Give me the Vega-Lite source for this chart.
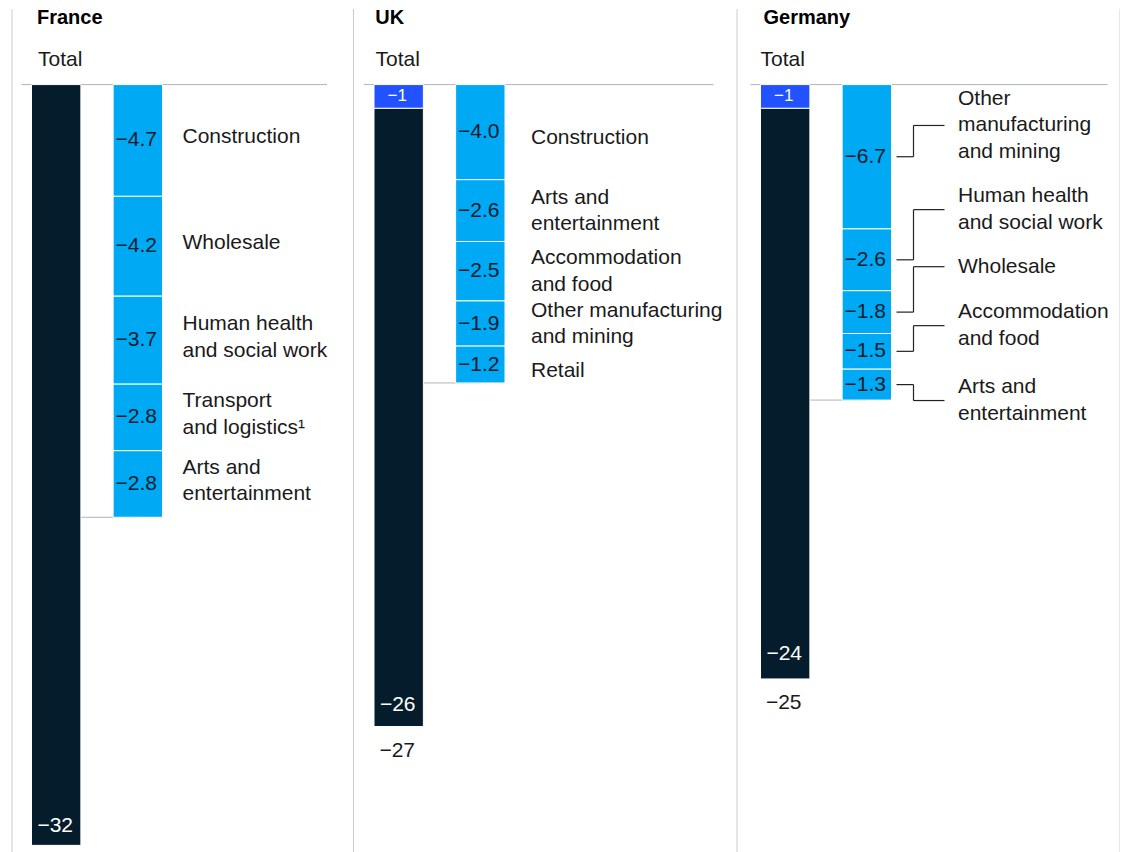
{
  "$schema": "https://vega.github.io/schema/vega-lite/v6.json",
  "autosize": {"type": "pad"},
  "padding": {"left": 11.5, "top": 7.5, "right": 0, "bottom": 0},
  "spacing": 36.5,
  "bounds": "flush",
  "config": {
    "font": "Liberation Sans",
    "view": {"stroke": null},
    "axisX": {"disable": true}
  },
  "datasets": {
    "fr": [
      {"col": "Total", "part": "rest", "order": 1, "value": -32, "bar": -32},
      {"col": "Sectors", "part": "sector", "order": 1, "name": "Construction", "value": -4.7, "bar": -4.7},
      {"col": "Sectors", "part": "sector", "order": 2, "name": "Wholesale", "value": -4.2, "bar": -4.2},
      {"col": "Sectors", "part": "sector", "order": 3, "name": "Human health\nand social work", "value": -3.7, "bar": -3.7},
      {"col": "Sectors", "part": "sector", "order": 4, "name": "Transport\nand logistics¹", "value": -2.8, "bar": -2.8},
      {"col": "Sectors", "part": "sector", "order": 5, "name": "Arts and\nentertainment", "value": -2.8, "bar": -2.8}
    ],
    "uk": [
      {"col": "Total", "part": "top", "order": 1, "value": -1, "bar": -1},
      {"col": "Total", "part": "rest", "order": 2, "value": -26, "bar": -26, "total": -27},
      {"col": "Sectors", "part": "sector", "order": 1, "name": "Construction", "value": -4.0, "bar": -4.0},
      {"col": "Sectors", "part": "sector", "order": 2, "name": "Arts and\nentertainment", "value": -2.6, "bar": -2.6},
      {"col": "Sectors", "part": "sector", "order": 3, "name": "Accommodation\nand food", "value": -2.5, "bar": -2.5},
      {"col": "Sectors", "part": "sector", "order": 4, "name": "Other manufacturing\nand mining", "value": -1.9, "bar": -1.9},
      {"col": "Sectors", "part": "sector", "order": 5, "name": "Retail", "value": -1.2, "bar": -1.55}
    ],
    "de": [
      {"col": "Total", "part": "top", "order": 1, "value": -1, "bar": -1},
      {"col": "Total", "part": "rest", "order": 2, "value": -24, "bar": -24, "total": -25},
      {"col": "Sectors", "part": "sector", "order": 1, "name": "Other\nmanufacturing\nand mining", "value": -6.7, "bar": -6.07, "labelAt": -1.72},
      {"col": "Sectors", "part": "sector", "order": 2, "name": "Human health\nand social work", "value": -2.6, "bar": -2.6, "labelAt": -5.26},
      {"col": "Sectors", "part": "sector", "order": 3, "name": "Wholesale", "value": -1.8, "bar": -1.8, "labelAt": -7.66},
      {"col": "Sectors", "part": "sector", "order": 4, "name": "Accommodation\nand food", "value": -1.5, "bar": -1.5, "labelAt": -10.14},
      {"col": "Sectors", "part": "sector", "order": 5, "name": "Arts and\nentertainment", "value": -1.3, "bar": -1.3, "labelAt": -13.29}
    ]
  },
  "hconcat": [
    {
      "width": 305.5,
      "height": 844,
      "data": {"name": "fr"},
      "transform": [
        {"stack": "bar", "groupby": ["col"], "sort": [{"field": "order", "order": "ascending"}], "as": ["y0", "y1"]},
        {"calculate": "(datum.y0 + datum.y1) / 2", "as": "mid"},
        {"calculate": "isValid(datum.name) ? length(split(datum.name, '\\n')) : 0", "as": "lines"}
      ],
      "resolve": {"axis": {"y": "independent"}},
      "layer": [
        {
          "data": {"values": [{}]},
          "mark": {"type": "rule", "color": "#b3b3b3", "strokeWidth": 1},
          "encoding": {
            "y": {"datum": 0, "type": "quantitative", "axis": {"orient": "left", "offset": 10, "domain": true, "domainColor": "#cccccc", "domainWidth": 1, "ticks": false, "labels": false, "grid": false, "title": null}}
          }
        },
        {
          "transform": [{"filter": "datum.col === 'Sectors'"}, {"aggregate": [{"op": "min", "field": "y1", "as": "end"}]}],
          "mark": {"type": "rule", "color": "#b3b3b3", "strokeWidth": 1},
          "encoding": {
            "x": {"datum": "Total", "type": "nominal", "axis": null},
            "x2": {"datum": "Sectors"},
            "y": {"field": "end", "type": "quantitative", "axis": null}
          }
        },
        {
          "mark": {"type": "bar", "stroke": "#ffffff", "strokeWidth": 1},
          "encoding": {
            "x": {"field": "col", "type": "nominal", "axis": null, "scale": {"domain": ["Total", "Sectors"], "range": [10, 141], "paddingInner": 0.395, "paddingOuter": 0}},
            "y": {"field": "y0", "type": "quantitative", "axis": null, "scale": {"domain": [-32.3, 3.2], "nice": false, "zero": false}},
            "y2": {"field": "y1"},
            "color": {"field": "part", "type": "nominal", "legend": null, "scale": {"domain": ["top", "rest", "sector"], "range": ["#2251ff", "#051c2c", "#00a9f4"]}}
          }
        },
        {
          "transform": [{"filter": "datum.col === 'Sectors'"}],
          "mark": {"type": "text", "fontSize": 21, "color": "#051c2c", "baseline": "middle", "dx": -1.5},
          "encoding": {
            "x": {"field": "col", "type": "nominal", "axis": null},
            "y": {"field": "mid", "type": "quantitative", "axis": null},
            "text": {"field": "value", "type": "quantitative", "format": ".1f"}
          }
        },
        {
          "transform": [{"filter": "datum.lines === 1"}],
          "mark": {"type": "text", "fontSize": 21, "color": "#1a1a1a", "align": "left", "baseline": "middle", "dx": 20, "dy": -3, "lineBreak": "\n", "lineHeight": 26.5},
          "encoding": {
            "x": {"field": "col", "type": "nominal", "bandPosition": 1, "axis": null},
            "y": {"field": "mid", "type": "quantitative", "axis": null},
            "text": {"field": "name", "type": "nominal"}
          }
        },
        {
          "transform": [{"filter": "datum.lines === 2"}],
          "mark": {"type": "text", "fontSize": 21, "color": "#1a1a1a", "align": "left", "baseline": "middle", "dx": 20, "dy": -16, "lineBreak": "\n", "lineHeight": 26.5},
          "encoding": {
            "x": {"field": "col", "type": "nominal", "bandPosition": 1, "axis": null},
            "y": {"field": "mid", "type": "quantitative", "axis": null},
            "text": {"field": "name", "type": "nominal"}
          }
        },
        {
          "transform": [{"filter": "datum.part === 'rest'"}],
          "mark": {"type": "text", "fontSize": 21, "color": "#ffffff", "baseline": "alphabetic", "dy": -13, "dx": -1},
          "encoding": {
            "x": {"field": "col", "type": "nominal", "axis": null},
            "y": {"field": "y1", "type": "quantitative", "axis": null},
            "text": {"field": "value", "type": "quantitative", "format": "d"}
          }
        },
        {
          "data": {"values": [{}]},
          "mark": {"type": "text", "text": "France", "fontSize": 20, "fontWeight": "bold", "color": "#000000", "align": "left", "baseline": "alphabetic", "dx": 5.5},
          "encoding": {
            "x": {"datum": "Total", "type": "nominal", "bandPosition": 0, "axis": null},
            "y": {"datum": 2.553, "type": "quantitative", "axis": null}
          }
        },
        {
          "data": {"values": [{}]},
          "mark": {"type": "text", "text": "Total", "fontSize": 21, "color": "#1a1a1a", "align": "left", "baseline": "alphabetic", "dx": 6.5},
          "encoding": {
            "x": {"datum": "Total", "type": "nominal", "bandPosition": 0, "axis": null},
            "y": {"datum": 0.77, "type": "quantitative", "axis": null}
          }
        }
      ]
    },
    {
      "width": 349.5,
      "height": 844,
      "data": {"name": "uk"},
      "transform": [
        {"stack": "bar", "groupby": ["col"], "sort": [{"field": "order", "order": "ascending"}], "as": ["y0", "y1"]},
        {"calculate": "(datum.y0 + datum.y1) / 2", "as": "mid"},
        {"calculate": "isValid(datum.name) ? length(split(datum.name, '\\n')) : 0", "as": "lines"}
      ],
      "resolve": {"axis": {"y": "independent"}},
      "layer": [
        {
          "data": {"values": [{}]},
          "mark": {"type": "rule", "color": "#b3b3b3", "strokeWidth": 1},
          "encoding": {
            "y": {"datum": 0, "type": "quantitative", "axis": {"orient": "left", "offset": 11, "domain": true, "domainColor": "#cccccc", "domainWidth": 1, "ticks": false, "labels": false, "grid": false, "title": null}}
          }
        },
        {
          "transform": [{"filter": "datum.col === 'Sectors'"}, {"aggregate": [{"op": "min", "field": "y1", "as": "end"}]}],
          "mark": {"type": "rule", "color": "#b3b3b3", "strokeWidth": 1},
          "encoding": {
            "x": {"datum": "Total", "type": "nominal", "axis": null},
            "x2": {"datum": "Sectors"},
            "y": {"field": "end", "type": "quantitative", "axis": null}
          }
        },
        {
          "mark": {"type": "bar", "stroke": "#ffffff", "strokeWidth": 1},
          "encoding": {
            "x": {"field": "col", "type": "nominal", "axis": null, "scale": {"domain": ["Total", "Sectors"], "range": [10, 141], "paddingInner": 0.395, "paddingOuter": 0}},
            "y": {"field": "y0", "type": "quantitative", "axis": null, "scale": {"domain": [-32.3, 3.2], "nice": false, "zero": false}},
            "y2": {"field": "y1"},
            "color": {"field": "part", "type": "nominal", "legend": null, "scale": {"domain": ["top", "rest", "sector"], "range": ["#2251ff", "#051c2c", "#00a9f4"]}}
          }
        },
        {
          "transform": [{"filter": "datum.col === 'Sectors'"}],
          "mark": {"type": "text", "fontSize": 21, "color": "#051c2c", "baseline": "middle", "dx": -1.5},
          "encoding": {
            "x": {"field": "col", "type": "nominal", "axis": null},
            "y": {"field": "mid", "type": "quantitative", "axis": null},
            "text": {"field": "value", "type": "quantitative", "format": ".1f"}
          }
        },
        {
          "transform": [{"filter": "datum.lines === 1"}],
          "mark": {"type": "text", "fontSize": 21, "color": "#1a1a1a", "align": "left", "baseline": "middle", "dx": 26, "dy": 6, "lineBreak": "\n", "lineHeight": 26.5},
          "encoding": {
            "x": {"field": "col", "type": "nominal", "bandPosition": 1, "axis": null},
            "y": {"field": "mid", "type": "quantitative", "axis": null},
            "text": {"field": "name", "type": "nominal"}
          }
        },
        {
          "transform": [{"filter": "datum.lines === 2"}],
          "mark": {"type": "text", "fontSize": 21, "color": "#1a1a1a", "align": "left", "baseline": "middle", "dx": 26, "dy": -13, "lineBreak": "\n", "lineHeight": 26.5},
          "encoding": {
            "x": {"field": "col", "type": "nominal", "bandPosition": 1, "axis": null},
            "y": {"field": "mid", "type": "quantitative", "axis": null},
            "text": {"field": "name", "type": "nominal"}
          }
        },
        {
          "transform": [{"filter": "datum.part === 'rest'"}],
          "mark": {"type": "text", "fontSize": 21, "color": "#ffffff", "baseline": "alphabetic", "dy": -15, "dx": -1},
          "encoding": {
            "x": {"field": "col", "type": "nominal", "axis": null},
            "y": {"field": "y1", "type": "quantitative", "axis": null},
            "text": {"field": "value", "type": "quantitative", "format": "d"}
          }
        },
        {
          "transform": [{"filter": "datum.part === 'top'"}],
          "mark": {"type": "text", "fontSize": 17, "color": "#ffffff", "baseline": "middle", "dx": -1.5},
          "encoding": {
            "x": {"field": "col", "type": "nominal", "axis": null},
            "y": {"field": "mid", "type": "quantitative", "axis": null},
            "text": {"field": "value", "type": "quantitative", "format": "d"}
          }
        },
        {
          "transform": [{"filter": "isValid(datum.total)"}],
          "mark": {"type": "text", "fontSize": 21, "color": "#1a1a1a", "baseline": "alphabetic", "dy": 31, "dx": -1.5},
          "encoding": {
            "x": {"field": "col", "type": "nominal", "axis": null},
            "y": {"field": "y1", "type": "quantitative", "axis": null},
            "text": {"field": "total", "type": "quantitative", "format": "d"}
          }
        },
        {
          "data": {"values": [{}]},
          "mark": {"type": "text", "text": "UK", "fontSize": 20, "fontWeight": "bold", "color": "#000000", "align": "left", "baseline": "alphabetic", "dx": 1.2},
          "encoding": {
            "x": {"datum": "Total", "type": "nominal", "bandPosition": 0, "axis": null},
            "y": {"datum": 2.553, "type": "quantitative", "axis": null}
          }
        },
        {
          "data": {"values": [{}]},
          "mark": {"type": "text", "text": "Total", "fontSize": 21, "color": "#1a1a1a", "align": "left", "baseline": "alphabetic", "dx": 1.5},
          "encoding": {
            "x": {"datum": "Total", "type": "nominal", "bandPosition": 0, "axis": null},
            "y": {"datum": 0.77, "type": "quantitative", "axis": null}
          }
        }
      ]
    },
    {
      "width": 357,
      "height": 844,
      "data": {"name": "de"},
      "transform": [
        {"stack": "bar", "groupby": ["col"], "sort": [{"field": "order", "order": "ascending"}], "as": ["y0", "y1"]},
        {"calculate": "(datum.y0 + datum.y1) / 2", "as": "mid"},
        {"calculate": "isValid(datum.name) ? length(split(datum.name, '\\n')) : 0", "as": "lines"}
      ],
      "resolve": {"axis": {"y": "independent"}},
      "layer": [
        {
          "data": {"values": [{}]},
          "mark": {"type": "rule", "color": "#b3b3b3", "strokeWidth": 1},
          "encoding": {
            "y": {"datum": 0, "type": "quantitative", "axis": {"orient": "left", "offset": 14, "domain": true, "domainColor": "#cccccc", "domainWidth": 1, "ticks": false, "labels": false, "grid": false, "title": null}}
          }
        },
        {
          "transform": [{"filter": "datum.col === 'Sectors'"}, {"aggregate": [{"op": "min", "field": "y1", "as": "end"}]}],
          "mark": {"type": "rule", "color": "#b3b3b3", "strokeWidth": 1},
          "encoding": {
            "x": {"datum": "Total", "type": "nominal", "axis": null},
            "x2": {"datum": "Sectors"},
            "y": {"field": "end", "type": "quantitative", "axis": {"orient": "right", "offset": 12, "domain": true, "domainColor": "#cccccc", "domainWidth": 1, "ticks": false, "labels": false, "grid": false, "title": null}}
          }
        },
        {
          "mark": {"type": "bar", "stroke": "#ffffff", "strokeWidth": 1},
          "encoding": {
            "x": {"field": "col", "type": "nominal", "axis": null, "scale": {"domain": ["Total", "Sectors"], "range": [10, 141], "paddingInner": 0.395, "paddingOuter": 0}},
            "y": {"field": "y0", "type": "quantitative", "axis": null, "scale": {"domain": [-32.3, 3.2], "nice": false, "zero": false}},
            "y2": {"field": "y1"},
            "color": {"field": "part", "type": "nominal", "legend": null, "scale": {"domain": ["top", "rest", "sector"], "range": ["#2251ff", "#051c2c", "#00a9f4"]}}
          }
        },
        {
          "transform": [{"filter": "datum.col === 'Sectors'"}],
          "mark": {"type": "rule", "color": "#222222", "strokeWidth": 1.2, "xOffset": 5, "x2Offset": 22},
          "encoding": {
            "x": {"field": "col", "type": "nominal", "bandPosition": 1, "axis": null},
            "x2": {"field": "col", "bandPosition": 1},
            "y": {"field": "mid", "type": "quantitative", "axis": null}
          }
        },
        {
          "transform": [{"filter": "datum.col === 'Sectors'"}],
          "mark": {"type": "rule", "color": "#222222", "strokeWidth": 1.2, "xOffset": 22},
          "encoding": {
            "x": {"field": "col", "type": "nominal", "bandPosition": 1, "axis": null},
            "y": {"field": "mid", "type": "quantitative", "axis": null},
            "y2": {"field": "labelAt"}
          }
        },
        {
          "transform": [{"filter": "datum.col === 'Sectors'"}],
          "mark": {"type": "rule", "color": "#222222", "strokeWidth": 1.2, "xOffset": 22, "x2Offset": 53},
          "encoding": {
            "x": {"field": "col", "type": "nominal", "bandPosition": 1, "axis": null},
            "x2": {"field": "col", "bandPosition": 1},
            "y": {"field": "labelAt", "type": "quantitative", "axis": null}
          }
        },
        {
          "transform": [{"filter": "datum.col === 'Sectors'"}],
          "mark": {"type": "text", "fontSize": 21, "color": "#051c2c", "baseline": "middle", "dx": -1.5},
          "encoding": {
            "x": {"field": "col", "type": "nominal", "axis": null},
            "y": {"field": "mid", "type": "quantitative", "axis": null},
            "text": {"field": "value", "type": "quantitative", "format": ".1f"}
          }
        },
        {
          "transform": [{"filter": "datum.lines === 1"}],
          "mark": {"type": "text", "fontSize": 21, "color": "#1a1a1a", "align": "left", "baseline": "middle", "dx": 66.5, "dy": 0, "lineBreak": "\n", "lineHeight": 26.5},
          "encoding": {
            "x": {"field": "col", "type": "nominal", "bandPosition": 1, "axis": null},
            "y": {"field": "labelAt", "type": "quantitative", "axis": null},
            "text": {"field": "name", "type": "nominal"}
          }
        },
        {
          "transform": [{"filter": "datum.lines === 2"}],
          "mark": {"type": "text", "fontSize": 21, "color": "#1a1a1a", "align": "left", "baseline": "middle", "dx": 66.5, "dy": -13.25, "lineBreak": "\n", "lineHeight": 26.5},
          "encoding": {
            "x": {"field": "col", "type": "nominal", "bandPosition": 1, "axis": null},
            "y": {"field": "labelAt", "type": "quantitative", "axis": null},
            "text": {"field": "name", "type": "nominal"}
          }
        },
        {
          "transform": [{"filter": "datum.lines === 3"}],
          "mark": {"type": "text", "fontSize": 21, "color": "#1a1a1a", "align": "left", "baseline": "middle", "dx": 66.5, "dy": -26.5, "lineBreak": "\n", "lineHeight": 26.5},
          "encoding": {
            "x": {"field": "col", "type": "nominal", "bandPosition": 1, "axis": null},
            "y": {"field": "labelAt", "type": "quantitative", "axis": null},
            "text": {"field": "name", "type": "nominal"}
          }
        },
        {
          "transform": [{"filter": "datum.part === 'rest'"}],
          "mark": {"type": "text", "fontSize": 21, "color": "#ffffff", "baseline": "alphabetic", "dy": -19, "dx": -1},
          "encoding": {
            "x": {"field": "col", "type": "nominal", "axis": null},
            "y": {"field": "y1", "type": "quantitative", "axis": null},
            "text": {"field": "value", "type": "quantitative", "format": "d"}
          }
        },
        {
          "transform": [{"filter": "datum.part === 'top'"}],
          "mark": {"type": "text", "fontSize": 17, "color": "#ffffff", "baseline": "middle", "dx": -1.5},
          "encoding": {
            "x": {"field": "col", "type": "nominal", "axis": null},
            "y": {"field": "mid", "type": "quantitative", "axis": null},
            "text": {"field": "value", "type": "quantitative", "format": "d"}
          }
        },
        {
          "transform": [{"filter": "isValid(datum.total)"}],
          "mark": {"type": "text", "fontSize": 21, "color": "#1a1a1a", "baseline": "alphabetic", "dy": 30, "dx": -1.5},
          "encoding": {
            "x": {"field": "col", "type": "nominal", "axis": null},
            "y": {"field": "y1", "type": "quantitative", "axis": null},
            "text": {"field": "total", "type": "quantitative", "format": "d"}
          }
        },
        {
          "data": {"values": [{}]},
          "mark": {"type": "text", "text": "Germany", "fontSize": 20, "fontWeight": "bold", "color": "#000000", "align": "left", "baseline": "alphabetic", "dx": 3},
          "encoding": {
            "x": {"datum": "Total", "type": "nominal", "bandPosition": 0, "axis": null},
            "y": {"datum": 2.553, "type": "quantitative", "axis": null}
          }
        },
        {
          "data": {"values": [{}]},
          "mark": {"type": "text", "text": "Total", "fontSize": 21, "color": "#1a1a1a", "align": "left", "baseline": "alphabetic", "dx": 0},
          "encoding": {
            "x": {"datum": "Total", "type": "nominal", "bandPosition": 0, "axis": null},
            "y": {"datum": 0.77, "type": "quantitative", "axis": null}
          }
        }
      ]
    }
  ]
}
